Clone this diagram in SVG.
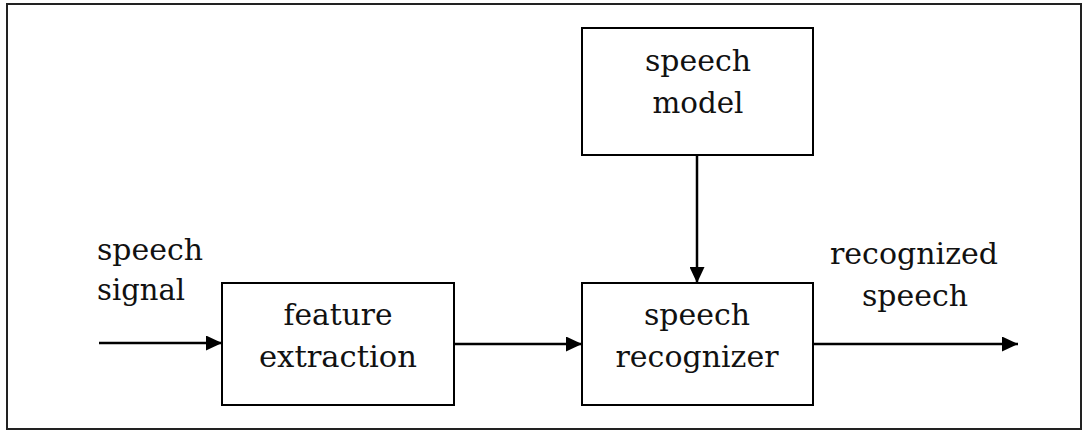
<svg xmlns="http://www.w3.org/2000/svg" width="1085" height="431" viewBox="0 0 1085 431">
  <style>
    .frame { fill: #ffffff; stroke: #222222; stroke-width: 2; }
    .box { fill: #ffffff; stroke: #000000; stroke-width: 2; }
    .lbl { font-family: "DejaVu Serif", "Liberation Serif", serif; font-size: 29px; fill: #111111; }
    .mid { text-anchor: middle; }
    .wire { stroke: #000000; stroke-width: 2.5; fill: none; }
  </style>
  <defs>
    <marker id="arrow" markerUnits="userSpaceOnUse" markerWidth="17" markerHeight="15" refX="16" refY="7.5" orient="auto">
      <path d="M0,0 L16,7.5 L0,15 Z" fill="#000000"/>
    </marker>
  </defs>

  <!-- outer frame -->
  <rect class="frame" x="7" y="4" width="1074" height="425"/>

  <!-- input / output labels -->
  <g id="input-label">
    <text class="lbl" x="97" y="260" textLength="106" lengthAdjust="spacingAndGlyphs">speech</text>
    <text class="lbl" x="97" y="300" textLength="88" lengthAdjust="spacingAndGlyphs">signal</text>
  </g>
  <g id="output-label">
    <text class="lbl mid" x="914" y="264" textLength="168" lengthAdjust="spacingAndGlyphs">recognized</text>
    <text class="lbl mid" x="915" y="306" textLength="106" lengthAdjust="spacingAndGlyphs">speech</text>
  </g>

  <!-- blocks -->
  <g id="feature-extraction">
    <rect class="box" x="222" y="283" width="232" height="122"/>
    <text class="lbl mid" x="338" y="325" textLength="109" lengthAdjust="spacingAndGlyphs">feature</text>
    <text class="lbl mid" x="338" y="367" textLength="158" lengthAdjust="spacingAndGlyphs">extraction</text>
  </g>
  <g id="speech-model">
    <rect class="box" x="582" y="28" width="231" height="127"/>
    <text class="lbl mid" x="698" y="71" textLength="106" lengthAdjust="spacingAndGlyphs">speech</text>
    <text class="lbl mid" x="698" y="113" textLength="91" lengthAdjust="spacingAndGlyphs">model</text>
  </g>
  <g id="speech-recognizer">
    <rect class="box" x="582" y="283" width="231" height="122"/>
    <text class="lbl mid" x="697" y="325" textLength="106" lengthAdjust="spacingAndGlyphs">speech</text>
    <text class="lbl mid" x="697" y="367" textLength="163" lengthAdjust="spacingAndGlyphs">recognizer</text>
  </g>

  <!-- connectors -->
  <g id="connectors">
    <line class="wire" x1="99" y1="343" x2="222" y2="343" marker-end="url(#arrow)"/>
    <line class="wire" x1="454" y1="344" x2="582" y2="344" marker-end="url(#arrow)"/>
    <line class="wire" x1="697" y1="155" x2="697" y2="283" marker-end="url(#arrow)"/>
    <line class="wire" x1="813" y1="344" x2="1018" y2="344" marker-end="url(#arrow)"/>
  </g>
</svg>
